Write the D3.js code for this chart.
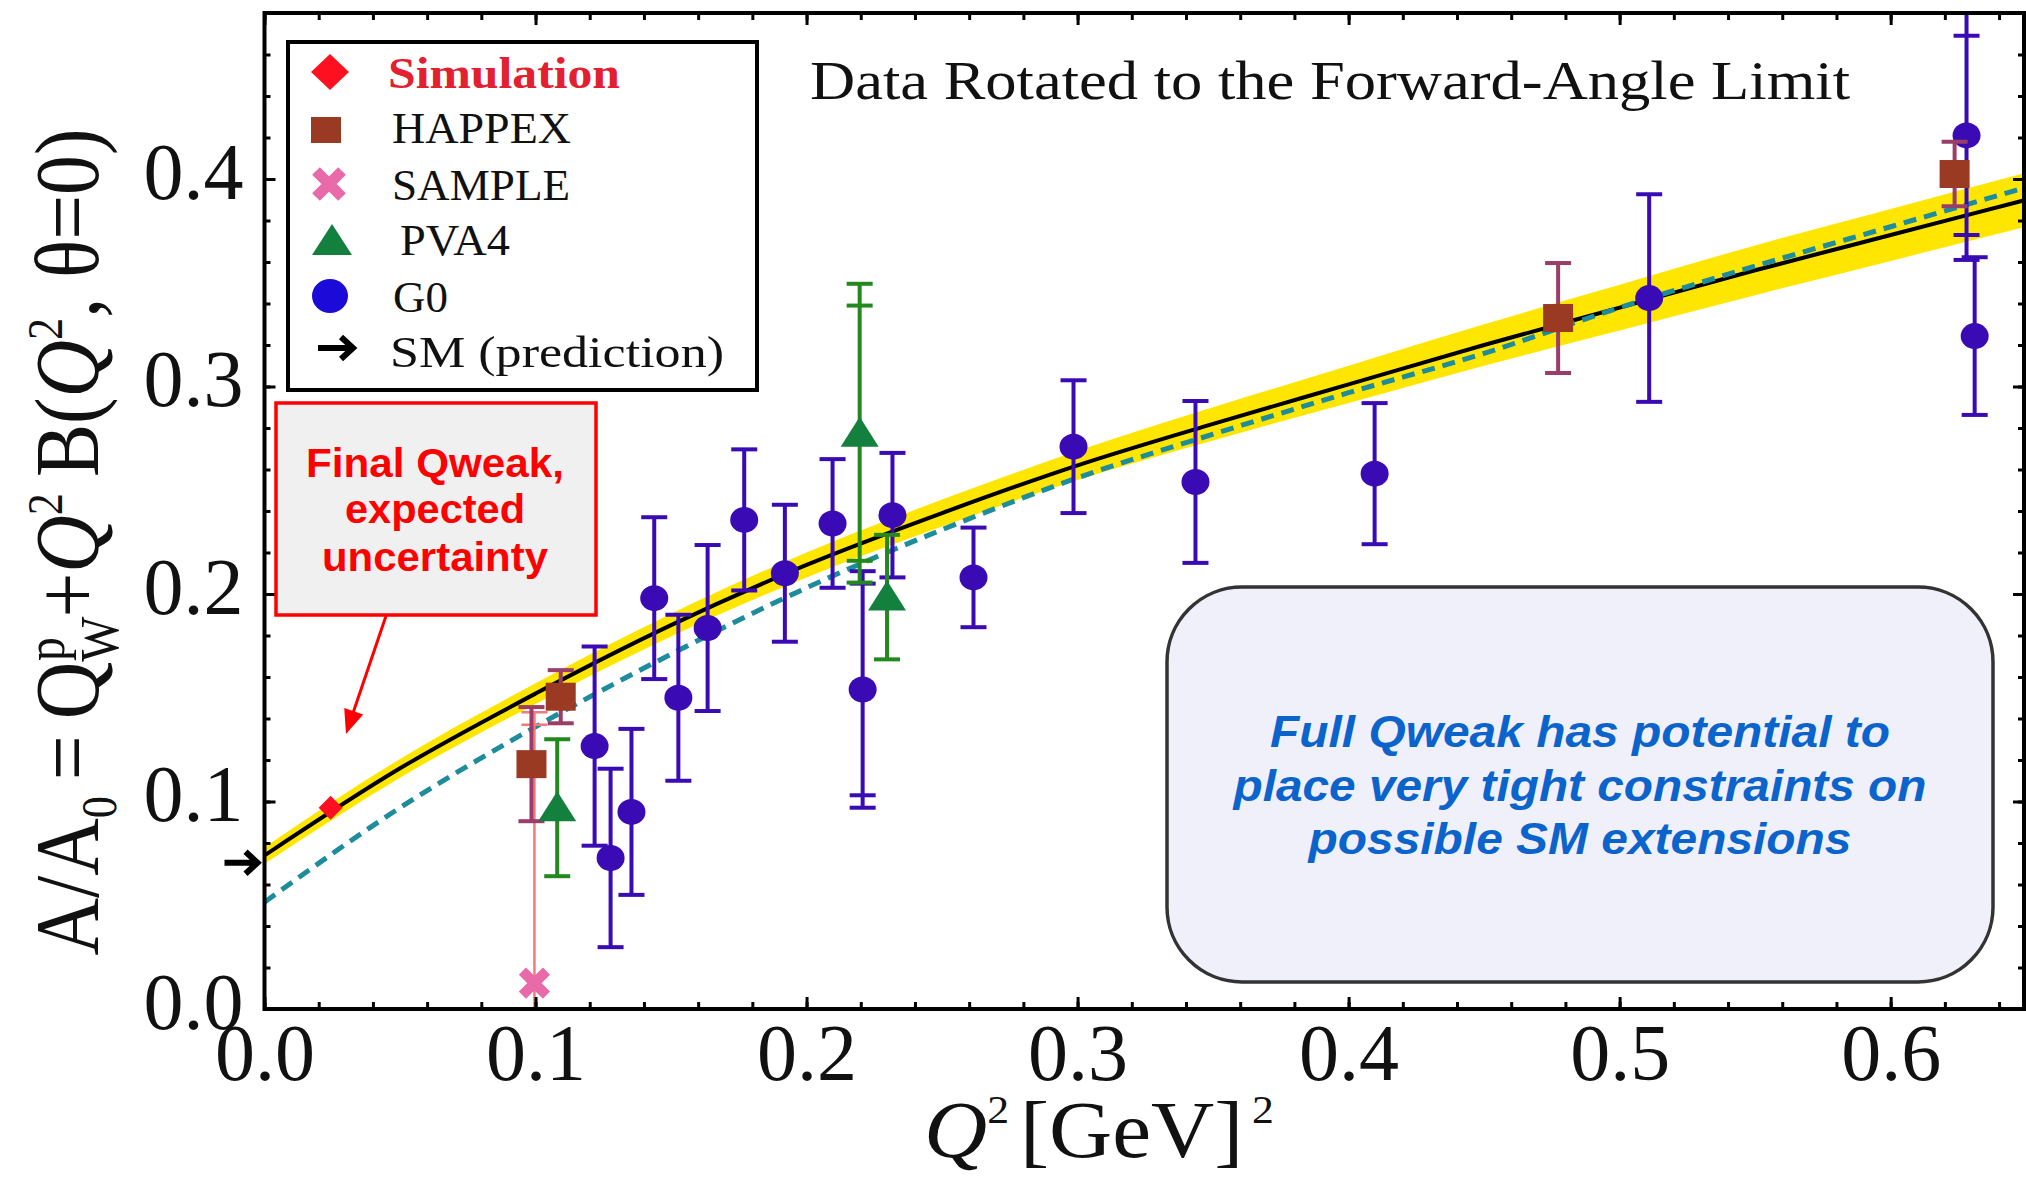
<!DOCTYPE html>
<html><head><meta charset="utf-8">
<script src="https://cdn.jsdelivr.net/npm/d3@7"></script>
<style>body{margin:0;background:#fff}svg{display:block}</style>
</head><body>
<svg id="chart" width="2026" height="1177"></svg>
<script>
// ---------------- data ----------------
const curveQ2 = [0, 0.05, 0.1, 0.15, 0.2, 0.25, 0.3, 0.35, 0.4, 0.45, 0.5, 0.55, 0.6, 0.65];
const smFit   = [0.074, 0.116, 0.152, 0.185, 0.214, 0.239, 0.262, 0.282, 0.301, 0.320, 0.338, 0.356, 0.373, 0.390];
const smBand  = [0.004, 0.0045, 0.005, 0.0055, 0.006, 0.0065, 0.007, 0.008, 0.009, 0.010, 0.011, 0.012, 0.0125, 0.013];
const altFit  = [0.0515, 0.097, 0.136, 0.171, 0.203, 0.231, 0.256, 0.277, 0.297, 0.316, 0.338, 0.358, 0.377, 0.396];

const g0Q2  = [0.1218, 0.1277, 0.1354, 0.1438, 0.1527, 0.1635, 0.177, 0.192, 0.2096, 0.2207, 0.2317, 0.2616, 0.2985, 0.3435, 0.4096, 0.5109, 0.628, 0.631];
const g0Val = [0.1267, 0.0728, 0.095, 0.198, 0.150, 0.1836, 0.2357, 0.210, 0.234, 0.154, 0.238, 0.208, 0.271, 0.254, 0.258, 0.3426, 0.421, 0.3243];
const g0Err = [0.048, 0.043, 0.040, 0.039, 0.040, 0.040, 0.034, 0.033, 0.031, 0.051, 0.030, 0.024, 0.032, 0.039, 0.034, 0.050, 0.048, 0.038];
const g0Err2 = [null, null, null, null, null, null, null, null, null, 0.057, null, null, null, null, null, null, 0.060, null];

const happexQ2  = [0.0985, 0.1093, 0.4773, 0.6236];
const happexVal = [0.118, 0.1505, 0.333, 0.4024];
const happexErr = [0.0275, 0.0128, 0.0265, 0.0155];

const sampleQ2  = [0.0996];
const sampleVal = [0.0125];
const sampleErr = [0.1245];
const sampleErr2 = [0.1305];

const pvaQ2  = [0.108, 0.2196, 0.2297];
const pvaVal = [0.097, 0.2775, 0.1985];
const pvaErr = [0.033, 0.0615, 0.030];
const pvaErr2 = [null, 0.072, null];

const simQ2  = [0.0244];
const simVal = [0.097];
const smPrediction = 0.0705;

const xTicks = [0, 0.1, 0.2, 0.3, 0.4, 0.5, 0.6];
const xTickLabels = ["0.0", "0.1", "0.2", "0.3", "0.4", "0.5", "0.6"];
const yTicks = [0, 0.1, 0.2, 0.3, 0.4];
const yTickLabels = ["0.0", "0.1", "0.2", "0.3", "0.4"];
const xMinor = d3.range(0, 33).map(i => i * 0.02);
const yMinor = d3.range(0, 25).map(i => i * 0.02);

const legendLabels = ["Simulation", "HAPPEX", "SAMPLE", "PVA4", "G0", "SM (prediction)"];
const titleText = "Data Rotated to the Forward-Angle Limit";
const redNote = ["Final Qweak,", "expected", "uncertainty"];
const blueNote = ["Full Qweak has potential to", "place very tight constraints on", "possible SM extensions"];

// ---------------- setup ----------------
const serif = "'Liberation Serif','Times New Roman',serif";
const sans = "'Liberation Sans',Arial,sans-serif";
const svg = d3.select('#chart');
const X = d3.scaleLinear().domain([0, 0.6492]).range([264.5, 2024]);
const Y = d3.scaleLinear().domain([0, 0.48]).range([1009, 13]);

const C = {
  g0: '#3a0bb4', g0Leg: '#1b0ad8',
  hapFill: '#9b3a22', hapBar: '#9a3d68',
  pvaFill: '#13803e', pvaBar: '#23891f',
  samFill: '#e96aa8', samBar: '#f27a7c',
  sim: '#ff1020', band: '#ffe600', alt: '#1d8c9c'
};

svg.append('defs').append('clipPath').attr('id', 'plotclip').append('rect')
  .attr('x', X(0)).attr('y', Y(0.48)).attr('width', X(0.6492) - X(0)).attr('height', Y(0) - Y(0.48));

// ---------------- curves ----------------
const plot = svg.append('g').attr('clip-path', 'url(#plotclip)');
const curve = curveQ2.map((q, i) => ({q, sm: smFit[i], b: smBand[i], alt: altFit[i]}));
plot.append('path').datum(curve)
  .attr('d', d3.area().x(d => X(d.q)).y0(d => Y(d.sm - d.b)).y1(d => Y(d.sm + d.b)).curve(d3.curveMonotoneX))
  .attr('fill', C.band);
plot.append('path').datum(curve)
  .attr('d', d3.line().x(d => X(d.q)).y(d => Y(d.sm)).curve(d3.curveMonotoneX))
  .attr('fill', 'none').attr('stroke', '#000').attr('stroke-width', 4);
plot.append('path').datum(curve)
  .attr('d', d3.line().x(d => X(d.q)).y(d => Y(d.alt)).curve(d3.curveMonotoneX))
  .attr('fill', 'none').attr('stroke', C.alt).attr('stroke-width', 5).attr('stroke-dasharray', '13,8');

// ---------------- error bars + markers ----------------
function errorBars(pts, color, width, capW) {
  const g = plot.append('g').attr('stroke', color).attr('stroke-width', width);
  pts.forEach(p => {
    const errs = [p.err, p.err2].filter(e => e != null);
    const maxE = d3.max(errs);
    g.append('line').attr('x1', X(p.q)).attr('x2', X(p.q)).attr('y1', Y(p.v - maxE)).attr('y2', Y(p.v + maxE));
    errs.forEach(e => [p.v - e, p.v + e].forEach(yv => {
      g.append('line').attr('x1', X(p.q) - capW / 2).attr('x2', X(p.q) + capW / 2)
        .attr('y1', Y(yv)).attr('y2', Y(yv));
    }));
  });
}
const g0Pts = g0Q2.map((q, i) => ({q, v: g0Val[i], err: g0Err[i], err2: g0Err2[i]}));
const hapPts = happexQ2.map((q, i) => ({q, v: happexVal[i], err: happexErr[i]}));
const samPts = sampleQ2.map((q, i) => ({q, v: sampleVal[i], err: sampleErr[i], err2: sampleErr2[i]}));
const pvaPts = pvaQ2.map((q, i) => ({q, v: pvaVal[i], err: pvaErr[i], err2: pvaErr2[i]}));

function triPath(cx, cy, w, h) { return `M${cx},${cy - h * 0.55}L${cx + w / 2},${cy + h * 0.45}L${cx - w / 2},${cy + h * 0.45}Z`; }
function diaPath(cx, cy, w, h) { return `M${cx},${cy - h / 2}L${cx + w / 2},${cy}L${cx},${cy + h / 2}L${cx - w / 2},${cy}Z`; }
function drawX(g, cx, cy, s, color) {
  g.append('path').attr('d', `M${cx - s / 2},${cy - s / 2}L${cx + s / 2},${cy + s / 2}M${cx + s / 2},${cy - s / 2}L${cx - s / 2},${cy + s / 2}`)
    .attr('stroke', color).attr('stroke-width', s * 0.42).attr('fill', 'none');
}

// G0
errorBars(g0Pts, C.g0, 4, 26);
plot.append('g').selectAll('ellipse').data(g0Pts).join('ellipse')
  .attr('cx', d => X(d.q)).attr('cy', d => Y(d.v)).attr('rx', 14).attr('ry', 13).attr('fill', C.g0);
// SAMPLE
errorBars(samPts, C.samBar, 2.5, 26);
samPts.forEach(d => drawX(plot, X(d.q), Y(d.v), 24, C.samFill));
// HAPPEX
errorBars(hapPts, C.hapBar, 4, 26);
plot.append('g').selectAll('rect').data(hapPts).join('rect')
  .attr('x', d => X(d.q) - 15).attr('y', d => Y(d.v) - 14).attr('width', 30).attr('height', 28).attr('fill', C.hapFill);
// PVA4
errorBars(pvaPts, C.pvaBar, 4, 26);
plot.append('g').selectAll('path').data(pvaPts).join('path')
  .attr('d', d => triPath(X(d.q), Y(d.v), 38, 30)).attr('fill', C.pvaFill);
// Simulation
plot.append('g').selectAll('path').data(simQ2.map((q, i) => ({q, v: simVal[i]}))).join('path')
  .attr('d', d => diaPath(X(d.q), Y(d.v), 24, 24)).attr('fill', C.sim);

// ---------------- frame + axes ----------------
function styleAxis(g) {
  g.select('.domain').remove();
  g.selectAll('.tick line').attr('stroke', '#000').attr('stroke-width', 3);
}
svg.append('g').attr('transform', `translate(0,${Y(0)})`)
  .call(d3.axisBottom(X).tickValues(xMinor).tickSize(-7).tickFormat('')).call(styleAxis);
const bottomMajor = svg.append('g').attr('transform', `translate(0,${Y(0)})`)
  .call(d3.axisBottom(X).tickValues(xTicks).tickSize(-12).tickSizeOuter(0).tickPadding(14)
    .tickFormat((d, i) => xTickLabels[i])).call(styleAxis);
bottomMajor.selectAll('text').attr('font-family', serif).attr('font-size', 80).attr('fill', '#111');

svg.append('g').attr('transform', `translate(0,${Y(0.48)})`)
  .call(d3.axisTop(X).tickValues(xMinor).tickSize(-7).tickFormat('')).call(styleAxis);
svg.append('g').attr('transform', `translate(0,${Y(0.48)})`)
  .call(d3.axisTop(X).tickValues(xTicks).tickSize(-12).tickFormat('')).call(styleAxis);

svg.append('g').attr('transform', `translate(${X(0)},0)`)
  .call(d3.axisLeft(Y).tickValues(yMinor).tickSize(-6).tickFormat('')).call(styleAxis);
const leftMajor = svg.append('g').attr('transform', `translate(${X(0)},0)`)
  .call(d3.axisLeft(Y).tickValues(yTicks).tickSize(-11).tickPadding(21).tickFormat((d, i) => yTickLabels[i])).call(styleAxis);
leftMajor.selectAll('text').attr('font-family', serif).attr('font-size', 80).attr('fill', '#111').attr('dy', '0.24em');

svg.append('g').attr('transform', `translate(${X(0.6492)},0)`)
  .call(d3.axisRight(Y).tickValues(yMinor).tickSize(-6).tickFormat('')).call(styleAxis);
svg.append('g').attr('transform', `translate(${X(0.6492)},0)`)
  .call(d3.axisRight(Y).tickValues(yTicks).tickSize(-11).tickFormat('')).call(styleAxis);

svg.append('rect').attr('x', X(0)).attr('y', Y(0.48)).attr('width', X(0.6492) - X(0)).attr('height', Y(0) - Y(0.48))
  .attr('fill', 'none').attr('stroke', '#000').attr('stroke-width', 4);

// SM prediction arrow on the axis
function arrow(g, xTip, yc, len, sw) {
  g.append('path').attr('d', `M${xTip - len},${yc}L${xTip - 3},${yc}M${xTip - 15},${yc - 11}L${xTip - 3},${yc}L${xTip - 15},${yc + 11}`)
    .attr('stroke', '#000').attr('stroke-width', sw).attr('fill', 'none').attr('stroke-linejoin', 'miter');
}
arrow(svg, X(0) - 4, Y(smPrediction), 36, 6);

// ---------------- axis titles ----------------
function fitWidth(textSel, target, tx, ty, rot) {
  const w = textSel.node().getBBox().width;
  textSel.attr('transform', `translate(${tx},${ty}) rotate(${rot}) scale(${target / w},1)`);
}
const yl = svg.append('text').attr('font-family', serif).attr('font-size', 90).attr('fill', '#111').attr('text-anchor', 'middle');
yl.append('tspan').text('A/A');
yl.append('tspan').attr('font-size', 50).attr('dy', 18).text('0');
yl.append('tspan').attr('dy', -18).text('\u2009=\u2009Q');
yl.append('tspan').attr('font-size', 54).attr('dy', 20).text('W');
yl.append('tspan').attr('font-size', 54).attr('dx', -50).attr('dy', -54).text('p');
yl.append('tspan').attr('dx', 22).attr('dy', 34).text('+');
yl.append('tspan').attr('font-style', 'italic').text('Q');
yl.append('tspan').attr('font-size', 50).attr('dy', -36).text('2');
yl.append('tspan').attr('dy', 36).text('\u2009B(');
yl.append('tspan').attr('font-style', 'italic').text('Q');
yl.append('tspan').attr('font-size', 50).attr('dy', -36).text('2');
yl.append('tspan').attr('dy', 36).text(', \u03b8=0)');
fitWidth(yl, 827, 98, 542, -90);

const xl = svg.append('text').attr('font-family', serif).attr('font-size', 80).attr('fill', '#111').attr('text-anchor', 'middle');
xl.append('tspan').attr('font-style', 'italic').text('Q');
xl.append('tspan').attr('font-size', 40).attr('dy', -34).text('2');
xl.append('tspan').attr('dx', 10).attr('dy', 34).text('[GeV]');
xl.append('tspan').attr('font-size', 40).attr('dx', 8).attr('dy', -34).text('2');
fitWidth(xl, 350, 1099, 1157, 0);

// ---------------- title ----------------
svg.append('text').attr('x', 810).attr('y', 99).attr('font-family', serif).attr('font-size', 54).attr('fill', '#111')
  .attr('textLength', 1040).attr('lengthAdjust', 'spacingAndGlyphs').text(titleText);

// ---------------- legend ----------------
const leg = svg.append('g');
leg.append('rect').attr('x', 288).attr('y', 42).attr('width', 469).attr('height', 348)
  .attr('fill', '#fff').attr('stroke', '#000').attr('stroke-width', 4);
leg.append('path').attr('d', diaPath(330, 72, 38, 36)).attr('fill', C.sim);
leg.append('rect').attr('x', 311).attr('y', 117).attr('width', 30).attr('height', 26).attr('fill', C.hapFill);
drawX(leg, 329, 184, 26, C.samFill);
leg.append('path').attr('d', triPath(332, 241, 40, 31)).attr('fill', C.pvaFill);
leg.append('ellipse').attr('cx', 330).attr('cy', 296).attr('rx', 18).attr('ry', 17).attr('fill', C.g0Leg);
arrow(leg, 356, 348, 38, 6);
const legPos = [
  {x: 388, y: 88, w: 232}, {x: 392, y: 143, w: 179}, {x: 392, y: 200, w: 178},
  {x: 400, y: 255, w: 110}, {x: 393, y: 312, w: 55}, {x: 390, y: 367, w: 334}
];
legendLabels.forEach((t, i) => {
  const p = legPos[i];
  leg.append('text').attr('x', p.x).attr('y', p.y).attr('font-family', serif)
    .attr('font-size', i === 0 ? 44 : 45).attr('font-weight', i === 0 ? 'bold' : 'normal')
    .attr('fill', i === 0 ? '#e3202f' : '#111')
    .attr('textLength', p.w).attr('lengthAdjust', 'spacingAndGlyphs').text(t);
});

// ---------------- red annotation ----------------
svg.append('rect').attr('x', 276).attr('y', 403).attr('width', 320).attr('height', 212)
  .attr('fill', '#f0f0f0').attr('stroke', '#ff0000').attr('stroke-width', 3.5);
const redW = [258, 180, 226], redY = [477, 523, 571];
redNote.forEach((t, i) => {
  svg.append('text').attr('x', 435).attr('y', redY[i]).attr('text-anchor', 'middle')
    .attr('font-family', sans).attr('font-weight', 'bold').attr('font-size', 40).attr('fill', '#ff0000')
    .attr('textLength', redW[i]).attr('lengthAdjust', 'spacingAndGlyphs').text(t);
});
svg.append('line').attr('x1', 386).attr('y1', 616).attr('x2', 352).attr('y2', 716)
  .attr('stroke', '#ff0000').attr('stroke-width', 3);
(function () {
  const tx = 346, ty = 734, ang = Math.atan2(734 - 616, 346 - 386);
  const L = 24, W = 10;
  const bx = tx - L * Math.cos(ang), by = ty - L * Math.sin(ang);
  const px = -Math.sin(ang) * W, py = Math.cos(ang) * W;
  svg.append('path').attr('d', `M${tx},${ty}L${bx + px},${by + py}L${bx - px},${by - py}Z`).attr('fill', '#ff0000');
})();

// ---------------- blue annotation ----------------
svg.append('rect').attr('x', 1167).attr('y', 587).attr('width', 826).attr('height', 395).attr('rx', 75).attr('ry', 75)
  .attr('fill', '#f0f0fb').attr('stroke', '#333').attr('stroke-width', 3.5);
const blueW = [620, 693, 543], blueY = [747, 801, 854];
blueNote.forEach((t, i) => {
  svg.append('text').attr('x', 1580).attr('y', blueY[i]).attr('text-anchor', 'middle')
    .attr('font-family', sans).attr('font-weight', 'bold').attr('font-style', 'italic').attr('font-size', 45)
    .attr('fill', '#0b63cc').attr('textLength', blueW[i]).attr('lengthAdjust', 'spacingAndGlyphs').text(t);
});
</script>
</body></html>
